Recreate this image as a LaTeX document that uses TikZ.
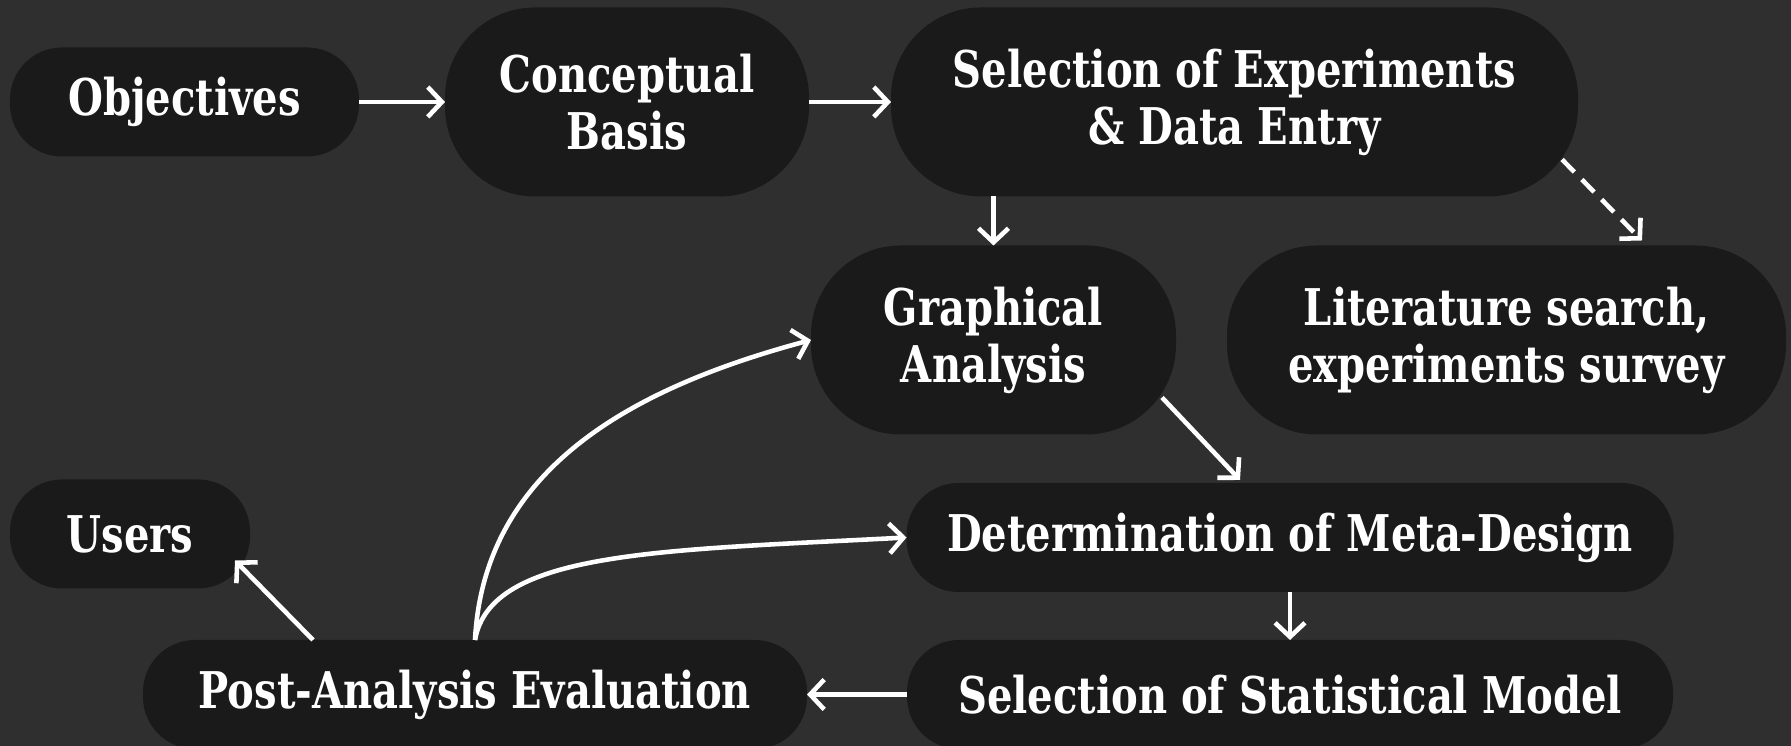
\documentclass[tikz,border=0pt]{standalone}
\usepackage{fontspec}
\setmainfont{DejaVu Serif Condensed}[BoldFont={DejaVu Serif Condensed Bold},FakeStretch=0.88]
\usepackage{tikz}
\usetikzlibrary{arrows.meta,calc,positioning}
\definecolor{board}{RGB}{47,47,47}
\definecolor{slate}{RGB}{26,26,26}
\newdimen\hdim
\newdimen\tdim
\hdim=1.09cm
\tdim=1.89cm
\tikzstyle{stage}=[
  fill=slate,
  font={\fontsize{14.4}{16.2}\selectfont\bfseries},
  text=white,
  align=center,
  inner sep=0pt,
  outer sep=0pt,
  minimum height=\hdim,
  rectangle,
  rounded corners=.52cm,
]
\tikzstyle{tallstage}=[
  stage,
  minimum height=\tdim,
  rounded corners=.9cm,
]
\tikzstyle{flow}=[
  ->,
  draw=white,
  line width=1.3pt,
]
\tikzstyle{maybe}=[
  flow,
  dash pattern=on 5pt off 3pt,
]
\tikzset{
  >={Straight Barb[length=4pt,width=8.5pt]},
}
\begin{document}
\begin{tikzpicture}
    \fill [board] (0,0) rectangle (17.91,7.46);
    \useasboundingbox (0,0) rectangle (17.91,7.46);
    % top row
    \node (obj) [stage, minimum width=3.49cm] at (1.845,6.44) {Objectives};
    \node (concept) [tallstage, minimum width=3.64cm, right=.86cm of obj] {Conceptual\\Basis};
    \node (select) [tallstage, minimum width=6.87cm, right=.82cm of concept] {Selection of Experiments\\\& Data Entry};
    % middle rows
    \node (graph) [tallstage, minimum width=3.65cm] at (9.935,4.06) {Graphical\\Analysis};
    \node (lit) [tallstage, minimum width=5.59cm, right=.51cm of graph] {Literature search,\\experiments survey};
    \node (users) [stage, minimum width=2.40cm] at (1.30,2.12) {Users};
    % bottom row
    \node (post) [stage, minimum width=6.64cm] at (4.75,.515) {Post-Analysis Evaluation};
    \node (stat) [stage, minimum width=7.66cm, right=1cm of post] {Selection of Statistical Model};
    \node (det) [stage, minimum width=7.67cm, above=.48cm of stat] {Determination of Meta-Design};
    \draw [flow] (obj) -- (concept);
    \draw [flow] (concept) -- (select);
    \draw [flow] (select.south -| graph.north) -- (graph.north);
    \draw [maybe] ($(select.south east)+(-.16,.37)$) -- ($(lit.north)+(1.355,.05)$);
    \draw [flow] ($(graph.south east)+(-.14,.37)$) -- ($(det.north)+(-.5,.03)$);
    \draw [flow] (det) -- (stat);
    \draw [flow] (stat) -- (post);
    \draw [flow] ($(post.north west)+(1.70,0)$) -- ($(users.south east)+(-.15,.28)$);
    % feedback from the evaluation
    \draw [flow] (post.north) to [out=87, in=195] (graph.west);
    \draw [flow] (post.north) to [out=80, in=183, out distance=.9cm, in distance=2.5cm] (det.west);
\end{tikzpicture}
\end{document}
